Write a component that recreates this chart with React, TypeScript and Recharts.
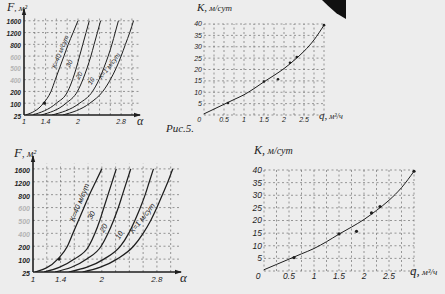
import React from "react";
import {
  ComposedChart,
  LineChart,
  Line,
  XAxis,
  YAxis,
  ReferenceLine,
  ReferenceDot,
} from "recharts";

// F(alpha) family: alpha at every F tick level
const fLevels = [25, 100, 200, 400, 500, 600, 800, 1200, 1600];
const fFaintLevels = [400, 500, 600];
const alphaTicks = [1, 1.4, 2, 2.8];
const alphaGrid = [1.2, 1.4, 1.6, 1.8, 2, 2.2, 2.4, 2.6, 2.8, 3];
const fCurveNames = ["К=40 м/сут", "30", "20", "10", "К=1 м/сут"];
const alphaK40 = [1.03, 1.36, 1.5, 1.58, 1.66, 1.74, 1.82, 1.91, 2.0];
const alphaK30 = [1.16, 1.6, 1.81, 1.9, 1.97, 2.03, 2.09, 2.15, 2.21];
const alphaK20 = [1.32, 1.78, 1.99, 2.09, 2.17, 2.24, 2.3, 2.36, 2.42];
const alphaK10 = [1.52, 2.03, 2.27, 2.39, 2.48, 2.56, 2.63, 2.69, 2.75];
const alphaK1 = [1.72, 2.22, 2.46, 2.6, 2.71, 2.8, 2.88, 2.96, 3.03];
const fCurves = [alphaK40, alphaK30, alphaK20, alphaK10, alphaK1];
const fMarkAlpha = [1.38];
const fMarkValue = [100];

// K(q) curve
const qValues = [0, 0.25, 0.5, 0.75, 1, 1.25, 1.5, 1.75, 2, 2.25, 2.5, 2.75, 3];
const kValues = [0.5, 2.6, 4.7, 6.8, 8.9, 11.6, 14.6, 17.4, 20.4, 24, 28, 33, 39.5];
const qMarks = [0.6, 1.5, 1.85, 2.15, 2.32, 3];
const kMarks = [5.3, 14.7, 15.7, 23, 25.5, 39.5];
const qTicks = [0, 0.5, 1, 1.5, 2, 2.5];
const qTickLabels = ["0", "0.5", "1", "1.5", "2", "2.5"];
const kTicks = [5, 10, 15, 20, 25, 30, 35, 40];
const qGrid = [0, 0.25, 0.5, 0.75, 1, 1.25, 1.5, 1.75, 2, 2.25, 2.5, 2.75, 3];
const kGrid = [0, 5, 10, 15, 20, 25, 30, 35, 40];

const FONT = "'Liberation Sans', 'DejaVu Sans', sans-serif";
const HAND = "'Liberation Serif', 'DejaVu Serif', serif";
const INK = "#1e1e1e";
const GRID = "#6f6f6f";

// where each curve name sits, relative to one of its points
const labelSpots = [
  { i: 5, dx: -4, dy: -5, rot: -68 },
  { i: 4, dx: -8, dy: -5, rot: -62 },
  { i: 3, dx: -4, dy: -5, rot: -60 },
  { i: 3, dx: -9, dy: 2, rot: -58 },
  { i: 4, dx: -8, dy: -2, rot: -52 },
];

type FGeom = {
  left: number;
  top: number;
  width: number;
  height: number;
  margin: { top: number; right: number; bottom: number; left: number };
  yWidth: number;
  xHeight: number;
  yFont: number;
  xFont: number;
  nameFont: number;
  curveW: number;
  s: number;
};

function FChart({ g }: { g: FGeom }) {
  const series = fCurves.map((al) => al.map((a, i) => ({ a, y: i })));
  const top = fLevels.length; // arrow tip, one step above last level
  return (
    <div style={{ position: "absolute", left: g.left, top: g.top }}>
      <LineChart width={g.width} height={g.height} margin={g.margin}>
        <XAxis
          type="number"
          dataKey="a"
          domain={[1, 3.15]}
          allowDataOverflow
          ticks={alphaTicks}
          interval={0}
          height={g.xHeight}
          tickSize={0}
          tickMargin={2}
          axisLine={{ stroke: INK, strokeWidth: 1.6 }}
          tickLine={false}
          tick={(p: any) => (
            <text
              x={p.x}
              y={p.y}
              dy={g.xFont}
              textAnchor="middle"
              fontSize={g.xFont}
              fontStyle="italic"
              fontFamily={FONT}
              fill={INK}
            >
              {p.payload.value}
            </text>
          )}
        />
        <YAxis
          type="number"
          domain={[0, top]}
          allowDataOverflow
          ticks={fLevels.map((_, i) => i)}
          interval={0}
          width={g.yWidth}
          tickSize={0}
          tickMargin={3}
          axisLine={{ stroke: INK, strokeWidth: 1.6 }}
          tickLine={false}
          tick={(p: any) => {
            const lvl = fLevels[p.payload.value];
            return (
              <text
                x={p.x}
                y={p.y}
                dy={g.yFont * 0.55}
                textAnchor="end"
                fontSize={g.yFont}
                fontStyle="italic"
                fontWeight="bold"
                fontFamily={FONT}
                fill={fFaintLevels.includes(lvl) ? "#b4b4b4" : INK}
              >
                {lvl}
              </text>
            );
          }}
        />
        {alphaGrid.map((a) => (
          <ReferenceLine
            key={"v" + a}
            segment={[
              { x: a, y: 0 },
              { x: a, y: top - 0.6 },
            ]}
            stroke={GRID}
            strokeWidth={0.7}
            strokeDasharray="2 2.5"
          />
        ))}
        {fLevels.slice(1).map((_, i) => (
          <ReferenceLine
            key={"h" + i}
            y={i + 1}
            stroke={GRID}
            strokeWidth={0.7}
            strokeDasharray="2 2.5"
          />
        ))}
        {series.map((data, k) => (
          <Line
            key={"c" + k}
            data={data}
            dataKey="y"
            type="monotone"
            stroke={INK}
            strokeWidth={g.curveW}
            dot={false}
            isAnimationActive={false}
          />
        ))}
        {fCurveNames.map((name, k) => {
          const sp = labelSpots[k];
          return (
            <ReferenceDot
              key={"n" + k}
              x={fCurves[k][sp.i]}
              y={sp.i}
              ifOverflow="visible"
              shape={(p: any) => {
                const x = p.cx + sp.dx * g.s;
                const y = p.cy + sp.dy * g.s;
                return (
                  <text
                    x={x}
                    y={y}
                    transform={`rotate(${sp.rot} ${x} ${y})`}
                    textAnchor="middle"
                    dominantBaseline="middle"
                    fontSize={g.nameFont}
                    fontStyle="italic"
                    fontFamily={FONT}
                    fill={INK}
                  >
                    {name}
                  </text>
                );
              }}
            />
          );
        })}
        {fMarkAlpha.map((a, i) => (
          <ReferenceDot
            key={"m" + i}
            x={a}
            y={fLevels.indexOf(fMarkValue[i])}
            r={1.6}
            fill={INK}
            stroke="none"
          />
        ))}
        <ReferenceDot
          x={1}
          y={top}
          ifOverflow="visible"
          shape={(p: any) => (
            <path
              d={`M${p.cx - 2.2},${p.cy + 6} L${p.cx},${p.cy - 1} L${p.cx + 2.2},${p.cy + 6} Z`}
              fill={INK}
            />
          )}
        />
        <ReferenceDot
          x={3.15}
          y={0}
          ifOverflow="visible"
          shape={(p: any) => (
            <path
              d={`M${p.cx - 6},${p.cy - 2.2} L${p.cx + 1},${p.cy} L${p.cx - 6},${p.cy + 2.2} Z`}
              fill={INK}
            />
          )}
        />
      </LineChart>
    </div>
  );
}

type KGeom = {
  left: number;
  top: number;
  width: number;
  height: number;
  margin: { top: number; right: number; bottom: number; left: number };
  yWidth: number;
  xHeight: number;
  font: number;
  dotR: number;
};

function KChart({ g }: { g: KGeom }) {
  const curve = qValues.map((q, i) => ({ q, k: kValues[i] }));
  return (
    <div style={{ position: "absolute", left: g.left, top: g.top }}>
      <ComposedChart width={g.width} height={g.height} margin={g.margin} data={curve}>
        <XAxis
          type="number"
          dataKey="q"
          domain={[0, 3]}
          ticks={qTicks}
          interval={0}
          height={g.xHeight}
          tickSize={0}
          tickMargin={0}
          axisLine={false}
          tickLine={false}
          tick={(p: any) => {
            const v = p.payload.value;
            return (
              <text
                x={p.x + (v === 0 ? -g.font * 0.7 : 0)}
                y={p.y}
                dy={g.font * 0.95}
                textAnchor="middle"
                fontSize={g.font}
                fontStyle="italic"
                fontFamily={FONT}
                fill={INK}
              >
                {qTickLabels[qTicks.indexOf(v)]}
              </text>
            );
          }}
        />
        <YAxis
          type="number"
          dataKey="k"
          domain={[0, 40]}
          ticks={kTicks}
          interval={0}
          width={g.yWidth}
          tickSize={0}
          tickMargin={2}
          axisLine={false}
          tickLine={false}
          tick={(p: any) => (
            <text
              x={p.x}
              y={p.y}
              dy={g.font * 0.35}
              textAnchor="end"
              fontSize={g.font}
              fontStyle="italic"
              fontFamily={FONT}
              fill={INK}
            >
              {p.payload.value}
            </text>
          )}
        />
        {qGrid.map((q) => (
          <ReferenceLine
            key={"v" + q}
            x={q}
            stroke={GRID}
            strokeWidth={0.7}
            strokeDasharray="2 2.5"
          />
        ))}
        {kGrid.map((k) => (
          <ReferenceLine
            key={"h" + k}
            y={k}
            stroke={GRID}
            strokeWidth={0.7}
            strokeDasharray="2 2.5"
          />
        ))}
        <Line
          dataKey="k"
          type="monotone"
          stroke={INK}
          strokeWidth={1}
          dot={false}
          isAnimationActive={false}
        />
        {qMarks.map((q, i) => (
          <ReferenceDot
            key={"m" + i}
            x={q}
            y={kMarks[i]}
            r={g.dotR}
            fill={INK}
            stroke="none"
          />
        ))}
      </ComposedChart>
    </div>
  );
}

const txt = (left: number, top: number, size: number): React.CSSProperties => ({
  position: "absolute",
  left,
  top,
  fontSize: size,
  fontFamily: HAND,
  fontStyle: "italic",
  color: INK,
  whiteSpace: "nowrap",
  lineHeight: 1,
});

export default function App() {
  return (
    <div
      style={{
        position: "fixed",
        left: 0,
        top: 0,
        width: 445,
        height: 294,
        background: "#ededed",
        overflow: "hidden",
      }}
    >
      <FChart
        g={{
          left: 0,
          top: 0,
          width: 150,
          height: 133,
          margin: { top: 9, right: 10, bottom: 4, left: 4 },
          yWidth: 20,
          xHeight: 14,
          yFont: 6.5,
          xFont: 7,
          nameFont: 6.5,
          curveW: 1,
          s: 0.82,
        }}
      />
      <FChart
        g={{
          left: 0,
          top: 130,
          width: 193,
          height: 162,
          margin: { top: 26, right: 12, bottom: 4, left: 5 },
          yWidth: 28,
          xHeight: 16,
          yFont: 7,
          xFont: 8,
          nameFont: 7.5,
          curveW: 1.25,
          s: 1,
        }}
      />
      <KChart
        g={{
          left: 176,
          top: 0,
          width: 178,
          height: 134,
          margin: { top: 24, right: 30, bottom: 5, left: 4 },
          yWidth: 24,
          xHeight: 14,
          font: 7,
          dotR: 1.3,
        }}
      />
      <KChart
        g={{
          left: 230,
          top: 140,
          width: 212,
          height: 152,
          margin: { top: 30, right: 28, bottom: 5, left: 4 },
          yWidth: 30,
          xHeight: 16,
          font: 8.5,
          dotR: 1.6,
        }}
      />

      <div style={txt(7, 1, 12)}>
        F<span style={{ fontSize: 9 }}>, м²</span>
      </div>
      <div style={txt(14, 146, 13)}>
        F<span style={{ fontSize: 10 }}>, м²</span>
      </div>
      <div style={txt(137, 115, 12)}>α</div>
      <div style={txt(180, 271, 13)}>α</div>

      <div style={txt(197, 2, 11)}>
        K,<span style={{ fontSize: 9 }}> м/сут</span>
      </div>
      <div style={txt(254, 144, 12)}>
        K,<span style={{ fontSize: 10 }}> м/сут</span>
      </div>
      <div style={txt(319, 110, 11)}>
        q,<span style={{ fontSize: 8 }}> м³/ч</span>
      </div>
      <div style={txt(410, 264, 13)}>
        q,<span style={{ fontSize: 9 }}> м³/ч</span>
      </div>

      <div style={txt(166, 123, 11)}>Рис.5.</div>

      <div
        style={{
          position: "absolute",
          left: 322,
          top: 0,
          width: 24,
          height: 19,
          background: "#111",
          clipPath: "polygon(0 0, 100% 0, 100% 100%, 60% 70%, 25% 30%)",
        }}
      />
    </div>
  );
}
